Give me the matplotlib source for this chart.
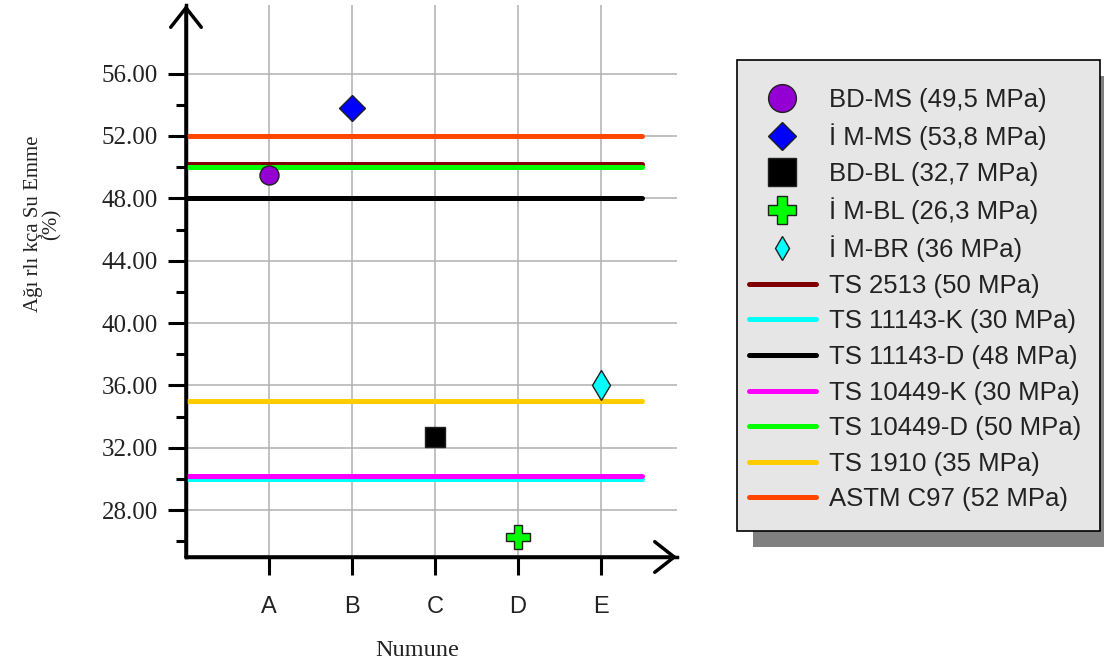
import numpy as np
import matplotlib.pyplot as plt
from matplotlib.patches import Rectangle
from matplotlib.ticker import FormatStrFormatter
from matplotlib import transforms

# Veriler
samples = ['A', 'B', 'C', 'D', 'E']
point_labels = ['BD-MS (49,5 MPa)', 'İ M-MS (53,8 MPa)', 'BD-BL (32,7 MPa)',
                'İ M-BL (26,3 MPa)', 'İ M-BR (36 MPa)']
point_values = [49.5, 53.8, 32.7, 26.3, 36.0]

standard_labels = ['TS 2513 (50 MPa)', 'TS 11143-K (30 MPa)', 'TS 11143-D (48 MPa)',
                   'TS 10449-K (30 MPa)', 'TS 10449-D (50 MPa)', 'TS 1910 (35 MPa)',
                   'ASTM C97 (52 MPa)']
standard_values = [50, 30, 48, 30, 50, 35, 52]

# Stil
point_markers = ['o', 'D', 's', 'P', 'd']
point_colors = ['#9400d3', '#0000ff', '#000000', '#00ff00', '#00ffff']
point_sizes = [13.7, 13.7, 14.4, 17, 15]
legend_marker_sizes = [20, 14.3, 20, 20, 12.7]
line_colors = ['#800000', '#00ffff', '#000000', '#ff00ff', '#00ff00', '#ffcc00', '#ff4500']
line_offsets = [2.2, 0, 0, 2.2, 0, 0, 0]  # points, to show overlapping lines
line_span = (0, 5.5)

fig = plt.figure(figsize=(11.04, 6.63), dpi=100)
ax = fig.add_axes([186 / 1104, 106 / 663, 491 / 1104, 552 / 663])

x = np.arange(1, len(samples) + 1)

for lab, val, col, off in zip(standard_labels, standard_values, line_colors, line_offsets):
    tr = transforms.offset_copy(ax.transData, fig=fig, x=0, y=off, units='points')
    ax.plot(line_span, [val, val], color=col, lw=3.6, solid_capstyle='round',
            transform=tr, label=lab, zorder=3)

for xi, val, m, c, s, lab in zip(x, point_values, point_markers, point_colors, point_sizes, point_labels):
    ax.plot(xi, val, ls='none', marker=m, ms=s, mfc=c, mec='#202020', mew=1,
            label=lab, zorder=5)

ax.set_xlim(0, 5.92)
ax.set_ylim(25, 60.4)
ax.set_xticks(x)
ax.set_xticklabels(samples)
ax.set_yticks(np.arange(28, 57, 4))
ax.set_yticks(np.arange(26, 55, 4), minor=True)
ax.yaxis.set_major_formatter(FormatStrFormatter('%.2f'))

ax.grid(True, which='major', color='#b0b0b0', lw=1.1)
ax.set_axisbelow(True)
for s in ['top', 'right']:
    ax.spines[s].set_visible(False)
for s in ['left', 'bottom']:
    ax.spines[s].set_linewidth(2.5)
ax.tick_params(axis='y', which='major', direction='out', length=13, width=2.2, pad=7,
               labelsize=18, labelfontfamily='Liberation Serif', labelcolor='#222222')
ax.tick_params(axis='y', which='minor', direction='out', length=7, width=2.2)
ax.tick_params(axis='x', which='major', direction='out', length=13, width=2.2, pad=15,
               labelsize=17, labelfontfamily='Liberation Sans', labelcolor='#222222')

# eksen okları
arrow = dict(arrowstyle='->,head_length=0.7,head_width=0.55', lw=2.5, color='black',
             shrinkA=0, shrinkB=0, mutation_scale=20)
ax.annotate('', xy=(0, 1), xytext=(0, 0), xycoords='axes fraction', arrowprops=arrow,
            annotation_clip=False)
ax.annotate('', xy=(1, 0), xytext=(0, 0), xycoords='axes fraction', arrowprops=arrow,
            annotation_clip=False)

ax.set_xlabel('Numune', family='Liberation Serif', fontsize=17.5, color='#222222')
ax.xaxis.set_label_coords(0.47, -0.150)
ax.set_ylabel('Ağı rlı kça Su Emme\n(%)', family='Liberation Serif', fontsize=15,
              linespacing=1.0, color='#222222')
ax.yaxis.set_label_coords(-0.2525, 0.603)

# legend
h, l = ax.get_legend_handles_labels()
order = [l.index(s) for s in point_labels + standard_labels]
leg = fig.legend([h[i] for i in order], [l[i] for i in order], loc='upper left',
                 bbox_to_anchor=(749 / 1104, 1 - 88 / 663), frameon=False,
                 borderaxespad=0, borderpad=0, prop={'family': 'Liberation Sans', 'size': 18.5},
                 labelspacing=0.45, handlelength=2.6, handletextpad=0.5)
for t in leg.get_texts():
    t.set_color('#222222')
for hd, ms in zip(leg.legend_handles[:len(point_labels)], legend_marker_sizes):
    hd.set_markersize(ms)

# legend çerçevesi ve gölgesi
fig.canvas.draw()
bb = leg.get_window_extent()
fx0, fy0 = bb.x0 - 12, bb.y0 - 20
fw, fh = 363, bb.y1 + 28 - fy0
ident = transforms.IdentityTransform()
fig.add_artist(Rectangle((fx0 + 16, fy0 - 16), fw, fh, transform=ident,
                         facecolor='#808080', edgecolor='none', zorder=3))
fig.add_artist(Rectangle((fx0, fy0), fw, fh, transform=ident,
                         facecolor='#e6e6e6', edgecolor='black', lw=1.2, zorder=4))

fig.savefig('out.png', dpi=100)
